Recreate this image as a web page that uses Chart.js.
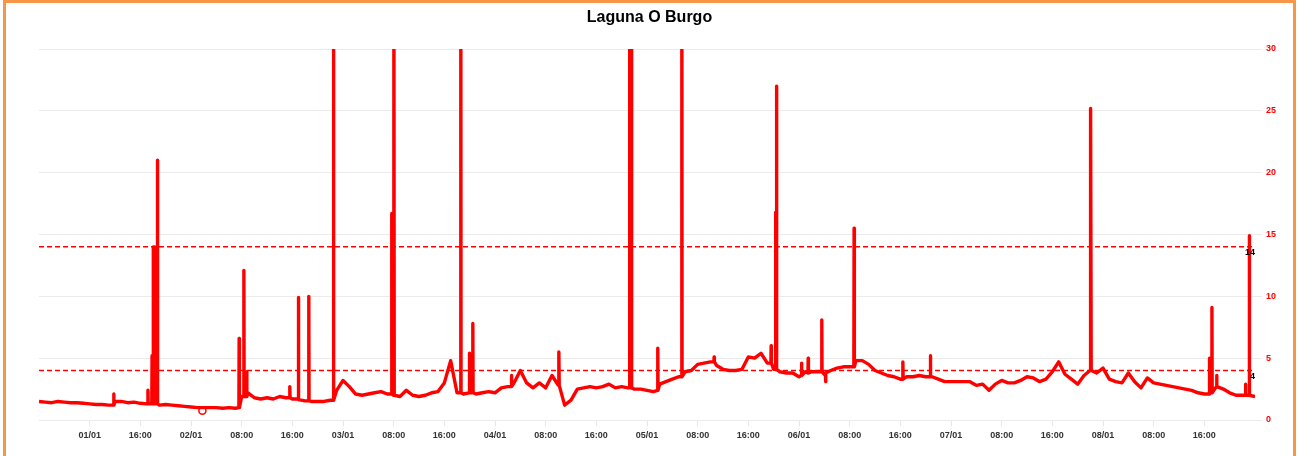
<!DOCTYPE html>
<html>
<head>
<meta charset="utf-8">
<script src="https://cdn.jsdelivr.net/npm/chart.js@4/dist/chart.umd.min.js"></script>
<style>
  html, body { margin: 0; padding: 0; background: #fff; overflow: hidden; }
  #frame { position: absolute; left: 3px; top: 0; width: 1287px; height: 456px;
           border-left: 3px solid #F79646; border-top: 3px solid #F79646; border-right: 3px solid #F79646; }
  #wrap { position: absolute; left: 0; top: 0; width: 1287px; height: 453px; }
</style>
</head>
<body>
<div id="frame"><div id="wrap"><canvas id="c" width="1287" height="453"></canvas></div></div>
<script>
// ---- data (x in hours from start of record) ----
const title = "Laguna O Burgo";
const tickHours = [8,16,24,32,40,48,56,64,72,80,88,96,104,112,120,128,136,144,152,160,168,176,184];
const tickLabels = ["01/01","16:00","02/01","08:00","16:00","03/01","08:00","16:00","04/01","08:00","16:00","05/01","08:00","16:00","06/01","08:00","16:00","07/01","08:00","16:00","08/01","08:00","16:00"];
// hourly base level, hour 0..192
const baseValues = [
 1.5,1.45,1.4,1.5,1.45,1.4,1.4,1.35,1.3,1.25,
 1.25,1.2,1.5,1.5,1.4,1.45,1.35,1.3,1.3,1.2,
 1.25,1.2,1.15,1.1,1.05,1.0,1.0,1.0,1.0,0.95,
 1.0,0.95,1.9,2.2,1.8,1.7,1.8,1.7,1.9,1.8,
 1.7,1.65,1.55,1.5,1.5,1.5,1.6,2.4,3.2,2.7,
 2.1,2.0,2.1,2.2,2.3,2.1,2.0,1.9,2.4,2.0,
 1.9,2.0,2.2,2.3,3.0,4.8,2.2,2.1,2.2,2.1,
 2.2,2.3,2.2,2.6,2.7,3.0,4.0,3.0,2.6,3.0,
 2.6,3.6,2.8,1.2,1.6,2.5,2.6,2.7,2.6,2.7,
 2.9,2.6,2.7,2.6,2.5,2.5,2.4,2.3,2.9,3.1,
 3.3,3.5,3.9,4.0,4.5,4.6,4.7,4.4,4.1,4.0,
 4.0,4.1,5.1,5.0,5.4,4.6,4.1,3.9,3.8,3.8,
 3.5,3.9,3.9,3.9,3.7,4.0,4.2,4.3,4.3,4.8,
 4.8,4.5,4.0,3.8,3.6,3.5,3.3,3.5,3.5,3.6,
 3.5,3.5,3.3,3.1,3.1,3.1,3.1,3.1,2.8,2.9,
 2.4,2.9,3.2,3.0,3.0,3.2,3.5,3.4,3.1,3.3,
 3.9,4.7,3.7,3.3,2.9,3.6,4.0,3.8,4.2,3.3,
 3.1,3.0,3.8,3.1,2.6,3.4,3.0,2.9,2.8,2.7,
 2.6,2.5,2.4,2.2,2.1,2.3,2.7,2.5,2.2,2.0,
 2.0,2.0,1.9
];
// short events: hour, level around it, peak value
const spikeHours = [11.8,17.2,17.85,18.05,18.25,18.7,31.6,32.35,32.8,39.6,40.95,42.6,46.5,55.7,56.05,66.6,67.95,68.5,74.6,82.1,93.25,93.55,97.7,101.5,106.6,115.6,116.3,116.45,120.4,121.45,123.6,124.2,128.7,136.4,140.75,166.0,166.1,184.8,185.2,185.95,190.5,191.1];
const spikeBase  = [1.2,1.3,1.3,1.3,1.3,1.3,1.0,1.9,1.9,1.8,1.7,1.55,1.6,2.1,2.0,2.2,2.2,2.2,2.7,2.8,2.6,2.6,2.4,3.5,4.7,4.6,4.1,4.1,3.6,3.8,3.9,3.8,4.3,3.3,3.5,4.0,4.0,2.1,2.2,2.7,2.0,2.0];
const spikePeak  = [2.1,2.4,5.2,14.0,14.0,21.0,6.6,12.1,3.9,2.7,9.9,10.0,40,16.7,40,40,5.4,7.8,3.6,5.5,40,40,5.8,40,5.1,6.0,16.8,27.0,4.6,5.0,8.1,3.1,15.5,4.7,5.2,16.0,25.2,5.0,9.1,3.6,2.9,14.9];
const markerHour = [25.8];
const markerValue = [0.75];
const thresholds = [14, 4];
const yTicks = [0,5,10,15,20,25,30];

// ---- build line points ----
const pts = baseValues.map((v, i) => ({x: i, y: v}));
spikeHours.forEach((h, i) => {
  pts.push({x: h - 0.04, y: spikeBase[i]});
  pts.push({x: h, y: spikePeak[i]});
  pts.push({x: h + 0.04, y: spikeBase[i]});
});
pts.sort((a, b) => a.x - b.x);

const FONT = "'Liberation Sans', Arial, Helvetica, sans-serif";

const extras = {
  id: 'extras',
  afterDraw(chart) {
    const {ctx, chartArea, scales, width} = chart;
    ctx.save();
    ctx.font = "bold 9px " + FONT;
    ctx.fillStyle = '#000';
    ctx.textAlign = 'right';
    ctx.textBaseline = 'middle';
    thresholds.forEach(t => {
      const y = scales.y.getPixelForValue(t);
      ctx.fillText(String(t), chartArea.right, y + 6);
    });
    ctx.font = "bold 16px " + FONT;
    ctx.textAlign = 'center';
    ctx.fillText(title, width / 2, 15);
    ctx.restore();
  }
};

new Chart(document.getElementById('c'), {
  type: 'line',
  data: {
    datasets: [
      { data: pts, borderColor: '#ff0000', borderWidth: 3.4, borderJoinStyle: 'round', pointRadius: 0, tension: 0, fill: false },
      ...thresholds.map(t => ({ data: [{x: 0, y: t}, {x: 192, y: t}], borderColor: '#ff0000', borderWidth: 1.5,
        borderDash: [5, 3], pointRadius: 0, fill: false })),
      { data: markerHour.map((h, i) => ({x: h, y: markerValue[i]})), showLine: false, pointRadius: 3.5,
        pointBackgroundColor: '#ffffff', pointBorderColor: '#ff0000', pointBorderWidth: 1.5 }
    ]
  },
  options: {
    responsive: false,
    animation: false,
    events: [],
    layout: { padding: { left: 33, right: 8, top: 46, bottom: 6 } },
    plugins: {
      legend: { display: false },
      tooltip: { enabled: false },
      title: { display: false }
    },
    scales: {
      x: {
        type: 'linear', min: 0, max: 192,
        afterBuildTicks: s => { s.ticks = tickHours.map(v => ({value: v})); },
        afterFit: s => { s.height = 30; },
        ticks: { callback: (v, i) => tickLabels[i], color: '#333', maxRotation: 0, autoSkip: false,
          font: { family: FONT, size: 9, weight: 'bold' }, padding: 4 },
        grid: { drawOnChartArea: false, drawTicks: true, tickLength: 6, color: '#e6e6e6' },
        border: { display: false }
      },
      y: {
        position: 'right', min: 0, max: 30,
        afterBuildTicks: s => { s.ticks = yTicks.map(v => ({value: v})); },
        afterFit: s => { s.width = 30; },
        ticks: { color: '#ff0000', font: { family: FONT, size: 9, weight: 'bold' }, padding: 4 },
        grid: { color: '#ebebeb', tickLength: 7, lineWidth: 1 },
        border: { display: false }
      }
    }
  },
  plugins: [extras]
});
</script>
</body>
</html>
